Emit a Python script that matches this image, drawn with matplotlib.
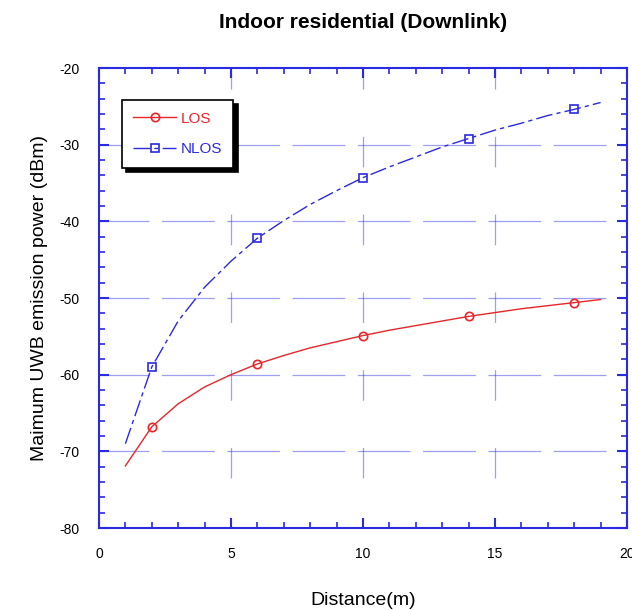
import numpy as np
import matplotlib
matplotlib.use("Agg")
import matplotlib.pyplot as plt
from matplotlib.ticker import MultipleLocator

plt.rcParams['font.family'] = ['Liberation Sans', 'DejaVu Sans']
plt.rcParams['axes.unicode_minus'] = False
plt.rcParams['lines.scale_dashes'] = False

# --- datos ---
distancia = [1, 2, 3, 4, 5, 6, 7, 8, 9, 10, 11, 12, 13, 14, 15, 16, 17, 18, 19]
los = [-71.9, -66.8, -63.8, -61.6, -60.0, -58.6, -57.5, -56.5, -55.7, -54.9,
       -54.2, -53.6, -53.0, -52.4, -51.9, -51.4, -51.0, -50.6, -50.2]
nlos = [-69.0, -59.0, -53.0, -48.6, -45.2, -42.2, -39.9, -37.8, -36.0, -34.3,
        -32.9, -31.6, -30.3, -29.2, -28.1, -27.2, -26.2, -25.4, -24.5]
marcas = [1, 5, 9, 13, 17]  # indices con marcador (x = 2, 6, 10, 14, 18)

azul = '#2a2ae0'
rojo = '#e8262a'

fig = plt.figure(figsize=(6.32, 6.10), dpi=100)
ax = fig.add_axes([0.1566, 0.1344, 0.8354, 0.7541])

# --- rejilla cortada ---
for yv in [-30, -40, -50, -60, -70]:
    ax.axhline(yv, color=azul, lw=0.9, alpha=0.45, linestyle=(2, (38, 9)), zorder=1)
for xv in [5, 10, 15]:
    ax.axvline(xv, color=azul, lw=0.9, alpha=0.45, linestyle=(20, (22, 34)), zorder=1)

ax.plot(distancia, los, color=rojo, lw=1.0, marker='o', markersize=6,
        markerfacecolor='none', markeredgecolor=rojo, markeredgewidth=1.2,
        markevery=marcas, label='LOS', zorder=3)
ax.plot(distancia, nlos, color=azul, lw=1.0, linestyle=(0, (12, 3, 3, 3)),
        marker='s', markersize=6, markerfacecolor='none', markeredgecolor=azul,
        markeredgewidth=1.2, markevery=marcas, label='NLOS', zorder=3)

ax.set_xlim(0, 20)
ax.set_ylim(-80, -20)
ax.xaxis.set_major_locator(MultipleLocator(5))
ax.xaxis.set_minor_locator(MultipleLocator(1))
ax.yaxis.set_major_locator(MultipleLocator(10))
ax.yaxis.set_minor_locator(MultipleLocator(2))

for s in ax.spines.values():
    s.set_color(azul)
    s.set_linewidth(1.5)
ax.tick_params(which='both', direction='in', top=True, right=True,
               color=azul, labelsize=10, labelcolor='black')
ax.tick_params(which='major', length=7, width=1.5, pad=14)
ax.tick_params(which='minor', length=4, width=1.2)

ax.set_xlabel('Distance(m)', fontsize=14, labelpad=22)
ax.set_ylabel('Maimum UWB emission power (dBm)', fontsize=14, labelpad=8)
fig.text(0.575, 0.963, 'Indoor residential (Downlink)', fontsize=15,
         fontweight='bold', ha='center', va='center')

leg = ax.legend(loc='upper left', bbox_to_anchor=(0.043, 0.93), fancybox=False,
                shadow={'color': 'black', 'alpha': 1.0, 'ox': 3, 'oy': -3},
                edgecolor='black', framealpha=1, fontsize=11, handlelength=2.8,
                labelspacing=1.1, borderpad=0.75, handletextpad=0.3,
                borderaxespad=0)
leg.get_frame().set_linewidth(1.2)
leg.set_zorder(5)
for txt, c in zip(leg.get_texts(), [rojo, azul]):
    txt.set_color(c)

plt.savefig('out.png', dpi=100)
